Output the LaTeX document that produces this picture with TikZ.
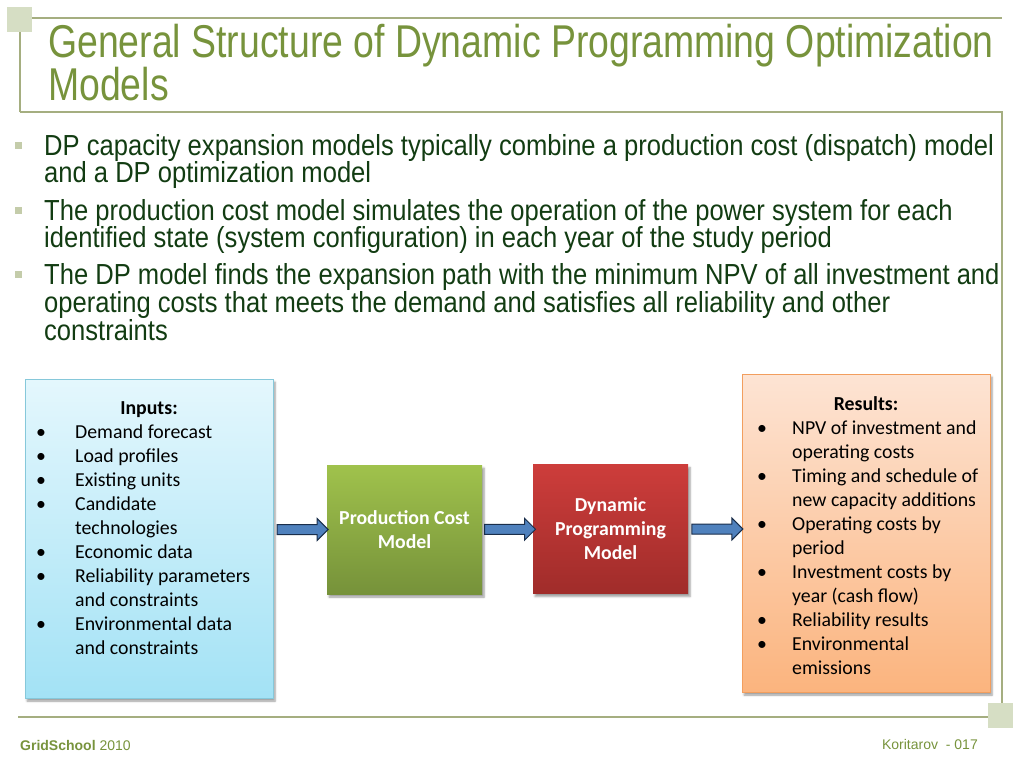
\documentclass[tikz,border=0pt]{standalone}
\usepackage{fontspec}
\setmainfont{Liberation Sans}
\newfontfamily\narrowf[FakeStretch=0.813]{Liberation Sans}
\newfontfamily\bodyf[FakeStretch=0.882]{Liberation Sans}
\newfontfamily\calib{Carlito}
\usetikzlibrary{shapes.arrows,shadows.blur,calc}
\definecolor{olive}{HTML}{77933C}
\definecolor{frameC}{RGB}{165,174,128}
\definecolor{sqC}{RGB}{214,222,196}
\definecolor{bodyC}{RGB}{18,60,18}
\definecolor{bulC}{RGB}{196,204,170}
\definecolor{inTop}{HTML}{E4F7FD}
\definecolor{inBot}{HTML}{A3E2F5}
\definecolor{inBrd}{HTML}{86C8DA}
\definecolor{resTop}{HTML}{FDE4D4}
\definecolor{resBot}{HTML}{FBB47E}
\definecolor{resBrd}{HTML}{F29E5E}
\definecolor{pcTop}{HTML}{A0C24C}
\definecolor{pcBot}{HTML}{76923A}
\definecolor{dpTop}{HTML}{CD3D3B}
\definecolor{dpBot}{HTML}{A02C2A}
\definecolor{arrF}{HTML}{4F81BD}
\definecolor{arrD}{HTML}{1A2E4A}
\tikzset{
  frameline/.style={draw=frameC, line width=1.5pt},
  sq/.style={fill=sqC, draw=none},
  titletext/.style={font=\narrowf\fontsize{46}{46}\selectfont, text=olive, anchor=base west, inner sep=0},
  bodytext/.style={font=\bodyf\fontsize{29}{29}\selectfont, text=bodyC, anchor=base west, inner sep=0},
  bul/.style={fill=bulC, draw=none, minimum size=7pt, inner sep=0},
  bigbox/.style={minimum width=248pt, inner sep=0, blur shadow={shadow xshift=2pt, shadow yshift=-3pt, shadow blur steps=5}},
  modelbox/.style={minimum width=155pt, minimum height=129pt, inner sep=0, text=white, align=center,
     font=\calib\bfseries\fontsize{19.8}{24}\selectfont, blur shadow={shadow xshift=2pt, shadow yshift=-3pt, shadow blur steps=5}},
  listtext/.style={font=\calib\fontsize{19.8}{24}\selectfont, anchor=base west, inner sep=0},
  listhead/.style={font=\calib\bfseries\fontsize{19.8}{24}\selectfont, anchor=base, inner sep=0},
  blockarrow/.style={single arrow, draw=arrD, fill=arrF, line width=1pt, inner sep=4.5pt,
     single arrow head extend=6pt, single arrow head indent=0pt, minimum height=51pt},
  foot/.style={font=\fontsize{14}{14}\selectfont, text=olive, inner sep=0},
}
\begin{document}
\begin{tikzpicture}[x=1pt,y=-1pt]
\useasboundingbox (0,0) rectangle (1024,768);
% frame
\draw[frameline] (20,112) -- (20,18) -- (1002,18);
\draw[frameline] (20,112) -- (1002,112) -- (1002,717) -- (18,717);
\fill[sq] (7,7) rectangle (32,32);
\fill[sq] (988,703) rectangle (1013,728);
% title
\node[titletext] (t1) at (48,57) {General Structure of Dynamic Programming Optimization};
\node[titletext] (t2) at (48,100) {Models};
% bullets
\node[bul] (b1) at (18,145) {};
\node[bul] (b2) at (18,210) {};
\node[bul] (b3) at (18,274) {};
\node[bodytext] (l1) at (44,155) {DP capacity expansion models typically combine a production cost (dispatch) model};
\node[bodytext] (l2) at (44,182) {and a DP optimization model};
\node[bodytext] (l3) at (44,220) {The production cost model simulates the operation of the power system for each};
\node[bodytext] (l4) at (44,247) {identified state (system configuration) in each year of the study period};
\node[bodytext] (l5) at (44,284) {The DP model finds the expansion path with the minimum NPV of all investment and};
\node[bodytext] (l6) at (44,312) {operating costs that meets the demand and satisfies all reliability and other};
\node[bodytext] (l7) at (44,340) {constraints};
% boxes
\node[bigbox, minimum height=319pt, draw=inBrd, line width=1pt, top color=inTop, bottom color=inBot] (in) at (149,538.5) {};
\node[bigbox, minimum height=318pt, draw=resBrd, line width=1pt, top color=resTop, bottom color=resBot] (res) at (866,533) {};
\node[modelbox, top color=pcTop, bottom color=pcBot] (pc) at (404.5,529.5) {Production Cost\\Model};
\node[modelbox, top color=dpTop, bottom color=dpBot] (dp) at (610.5,529) {Dynamic\\Programming\\Model};
% inputs list
\node[listhead] (inh) at (149,414) {Inputs:};
\foreach \b/\t [count=\i] in {1/Demand forecast, 1/Load profiles, 1/Existing units, 1/Candidate, 0/technologies,
   1/Economic data, 1/Reliability parameters, 0/and constraints, 1/Environmental data, 0/and constraints}{
  \node[listtext] (in\i) at (75,414+24*\i) {\t};
  \ifnum\b=1 \node[listtext, anchor=base] (inb\i) at (41,414+24*\i) {•}; \fi
}
% results list
\node[listhead] (resh) at (866,410) {Results:};
\foreach \b/\t [count=\i] in {1/NPV of investment and, 0/operating costs, 1/Timing and schedule of, 0/new capacity additions,
   1/Operating costs by, 0/period, 1/Investment costs by, 0/year (cash flow), 1/Reliability results, 1/Environmental, 0/emissions}{
  \node[listtext] (r\i) at (792,410+24*\i) {\t};
  \ifnum\b=1 \node[listtext, anchor=base] (rb\i) at (762,410+24*\i) {•}; \fi
}
% arrows
\path (in.east |- pc.west) -- node[blockarrow] (a1) {} (pc.west);
\path (pc.east) -- node[blockarrow] (a2) {} (dp.west);
\path (dp.east) -- node[blockarrow] (a3) {} (res.west |- dp.east);
% footer
\node[foot, anchor=base west] (f1) at (20,750) {\textbf{GridSchool} 2010};
\node[foot, anchor=base east] (f2) at (978,749) {Koritarov\ \ - 017};
\end{tikzpicture}
\end{document}
